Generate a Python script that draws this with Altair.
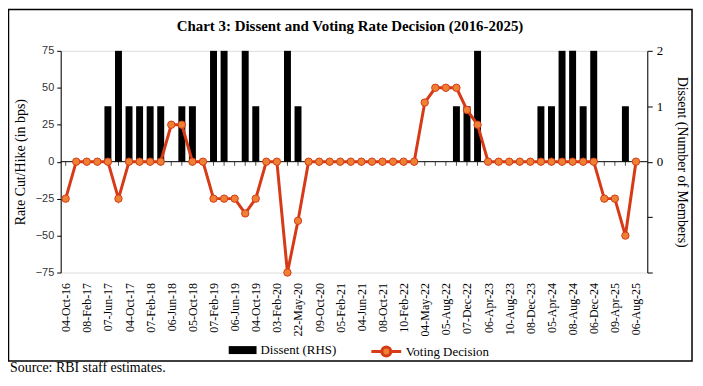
import json
import altair as alt
import pandas as pd

# MPC meeting dates (x categories)
dates = [
    "04-Oct-16", "07-Dec-16", "08-Feb-17", "06-Apr-17", "07-Jun-17", "02-Aug-17",
    "04-Oct-17", "06-Dec-17", "07-Feb-18", "05-Apr-18", "06-Jun-18", "01-Aug-18",
    "05-Oct-18", "05-Dec-18", "07-Feb-19", "04-Apr-19", "06-Jun-19", "07-Aug-19",
    "04-Oct-19", "05-Dec-19", "03-Feb-20", "27-Mar-20", "22-May-20", "06-Aug-20",
    "09-Oct-20", "04-Dec-20", "05-Feb-21", "07-Apr-21", "04-Jun-21", "06-Aug-21",
    "08-Oct-21", "08-Dec-21", "10-Feb-22", "08-Apr-22", "04-May-22", "08-Jun-22",
    "05-Aug-22", "30-Sep-22", "07-Dec-22", "08-Feb-23", "06-Apr-23", "08-Jun-23",
    "10-Aug-23", "06-Oct-23", "08-Dec-23", "08-Feb-24", "05-Apr-24", "07-Jun-24",
    "08-Aug-24", "09-Oct-24", "06-Dec-24", "07-Feb-25", "09-Apr-25", "06-Jun-25",
    "06-Aug-25",
]

# Voting decision (rate cut/hike, bps) - left axis
voting_bps = [
    -25, 0, 0, 0, 0, -25,
    0, 0, 0, 0, 25, 25,
    0, 0, -25, -25, -25, -35,
    -25, 0, 0, -75, -40, 0,
    0, 0, 0, 0, 0, 0,
    0, 0, 0, 0, 40, 50,
    50, 50, 35, 25, 0, 0,
    0, 0, 0, 0, 0, 0,
    0, 0, 0, -25, -25, -50,
    0,
]

# Dissent (number of members) - right axis
dissent = [
    0, 0, 0, 0, 1, 2,
    1, 1, 1, 1, 0, 1,
    1, 0, 2, 2, 0, 2,
    1, 0, 0, 2, 1, 0,
    0, 0, 0, 0, 0, 0,
    0, 0, 0, 0, 0, 0,
    0, 1, 1, 2, 0, 0,
    0, 0, 0, 1, 1, 2,
    2, 1, 2, 0, 0, 1,
    0,
]

left_ticks = [-75, -50, -25, 0, 25, 50, 75]
right_ticks = [-2, -1, 0, 1, 2]

title_text = "Chart 3: Dissent and Voting Rate Decision (2016-2025)"
source_text = "Source: RBI staff estimates."

df = pd.DataFrame({
    "idx": list(range(len(dates))),
    "date": dates,
    "rate": voting_bps,
    "dissent": dissent,
})

W, H = 590, 223
SERIF = "Liberation Serif"
SANS = "Liberation Sans"
LINE_RED = "#D63A16"
MARK_ORANGE = "#EE8034"

label_expr = "datum.value % 2 == 0 ? " + json.dumps(dates) + "[datum.value] : ''"

x_enc = alt.X(
    "idx:Q",
    scale=alt.Scale(domain=[0, 54.6], nice=False, zero=False),
    axis=alt.Axis(
        values=list(range(len(dates))), labelExpr=label_expr, labelAngle=-90,
        labelFont=SERIF, labelFontSize=12, labelColor="black", labelPadding=10,
        domain=False, ticks=False, grid=False, title=None,
        labelOverlap=False, labelFlush=False, labelBound=False,
    ),
)

left_scale = alt.Scale(domain=[-75, 75], nice=False)
left_axis = alt.Axis(
    orient="left", values=left_ticks, grid=False, domainColor="black",
    tickColor="black", tickSize=4, labelFont=SANS, labelFontSize=11,
    labelColor="#333333", labelPadding=3, labelOverlap=False,
    labelFlush=False, labelBound=False,
    title="Rate Cut/Hike (in bps)",
    titleFont=SERIF, titleFontSize=14, titleFontWeight="normal",
    titleColor="black", titlePadding=8,
)

y_left = alt.Y("rate:Q", scale=left_scale, axis=left_axis)
y_zero = alt.Y("zero:Q", scale=left_scale, axis=left_axis)

base = alt.Chart(df)

bars = base.mark_bar(size=7).transform_calculate(s="'Dissent (RHS)'").encode(
    x=x_enc,
    y=alt.Y(
        "dissent:Q",
        scale=alt.Scale(domain=[-2, 2], nice=False),
        axis=alt.Axis(
            orient="right", values=right_ticks, grid=False,
            labelExpr="datum.value >= 0 ? datum.label : ''",
            labelOverlap=False, labelFlush=False, labelBound=False,
            domainColor="black", tickColor="black", tickSize=5,
            labelFont=SERIF, labelFontSize=13, labelColor="black", labelPadding=4,
            title="Dissent (Number of Members)", titleFont=SERIF, titleFontSize=14,
            titleFontWeight="normal", titleColor="black", titlePadding=12,
        ),
    ),
    fill=alt.Fill(
        "s:N",
        scale=alt.Scale(domain=["Dissent (RHS)"], range=["black"]),
        legend=alt.Legend(
            orient="none", legendX=173, legendY=291, title=None, padding=0,
            symbolType="M-1.4,-0.4L1.4,-0.4L1.4,0.4L-1.4,0.4Z", symbolSize=400,
            symbolStrokeWidth=0, labelFont=SERIF, labelFontSize=13,
            labelColor="black", labelOffset=8,
        ),
    ),
)

zero_rule = alt.Chart(pd.DataFrame({"zero": [0]})).mark_rule(color="black", strokeWidth=1).encode(y=y_zero)

x_ticks = base.transform_calculate(zero="0").mark_tick(
    orient="vertical", size=4, thickness=1, yOffset=2, color="black"
).encode(x=x_enc, y=y_zero)

line = base.mark_line(strokeWidth=3).transform_calculate(s="'Voting Decision'").encode(
    x=x_enc,
    y=y_left,
    stroke=alt.Stroke(
        "s:N",
        scale=alt.Scale(domain=["Voting Decision"], range=[LINE_RED]),
        legend=alt.Legend(
            orient="none", legendX=316, legendY=291, title=None, padding=0,
            symbolType="M-1.5,0L-0.45,0M0.45,0L1.5,0M0.45,0A0.45,0.45 0 1,1 -0.45,0A0.45,0.45 0 1,1 0.45,0",
            symbolSize=400, symbolStrokeWidth=3, symbolFillColor=MARK_ORANGE,
            labelFont=SERIF, labelFontSize=13, labelColor="black", labelOffset=8,
        ),
    ),
)

points = base.mark_point(filled=True, fill=MARK_ORANGE, stroke=LINE_RED, strokeWidth=1, size=55, opacity=1).encode(
    x=x_enc, y=y_left
)

left = alt.layer(zero_rule, x_ticks, line, points)

one = alt.Chart(pd.DataFrame({"k": [0]}))

frame = one.mark_rect(filled=False, stroke="black", strokeWidth=1.5).encode(
    x=alt.value(-52.5), x2=alt.value(635), y=alt.value(-41.5), y2=alt.value(312)
)

title = one.mark_text(font=SERIF, fontSize=15, fontWeight="bold", align="center", baseline="middle", color="black").encode(
    x=alt.value(291), y=alt.value(-25), text=alt.value(title_text)
)

source = one.mark_text(font=SERIF, fontSize=14, align="left", baseline="alphabetic", color="black").encode(
    x=alt.value(-51), y=alt.value(323), text=alt.value(source_text)
)

chart = alt.layer(bars, left, frame, title, source).resolve_scale(
    y="independent", fill="independent", stroke="independent"
).properties(
    width=W, height=H,
    autosize=alt.AutoSizeParams(type="none"),
    padding={"left": 53, "top": 42, "right": 48, "bottom": 104},
).configure_view(stroke=None).configure(background="white")

chart.save("out.html", embed_options={"renderer": "svg", "actions": False})
